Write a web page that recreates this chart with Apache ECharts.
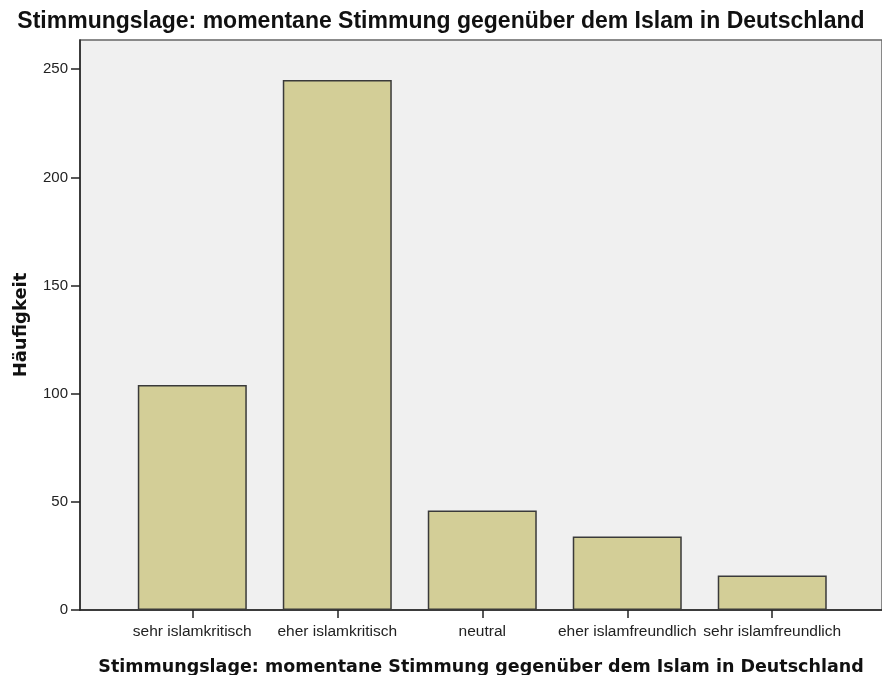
<!DOCTYPE html>
<html>
<head>
<meta charset="utf-8">
<style>
  body, html, #main { margin: 0; width: 882px; height: 675px; background: #fff; }
</style>
<script src="https://cdn.jsdelivr.net/npm/echarts@6/dist/echarts.min.js"></script>
</head>
<body>
<div id="main"></div>
<script>
// Häufigkeiten je Kategorie
const categories = ['sehr islamkritisch', 'eher islamkritisch', 'neutral', 'eher islamfreundlich', 'sehr islamfreundlich']
const counts = [104, 245, 46, 34, 16]
const yTicks = [0, 50, 100, 150, 200, 250]
const titleText = 'Stimmungslage: momentane Stimmung gegenüber dem Islam in Deutschland'

const catIndex = categories.map((c, i) => i)

const chart = echarts.init(document.getElementById('main'), null, { renderer: 'canvas' })
chart.setOption({
  animation: false,
  title: {
    text: titleText,
    left: 'center',
    top: 5,
    textStyle: { fontFamily: 'Liberation Sans', fontSize: 23, fontWeight: 'bold', color: '#111' }
  },
  grid: {
    left: 80, right: 0, top: 40, bottom: 65,
    outerBoundsMode: 'none',
    containLabel: false,
    show: true,
    backgroundColor: '#f0f0f0',
    borderColor: '#666',
    borderWidth: 1.5
  },
  xAxis: {
    type: 'value',
    min: -0.7745,
    max: 4.757,
    splitLine: { show: false },
    axisLine: { show: true, onZero: false, lineStyle: { color: '#222', width: 1.5 } },
    axisTick: { show: true, length: 8, lineStyle: { color: '#222', width: 1.5 }, customValues: catIndex },
    axisLabel: {
      customValues: catIndex,
      formatter: v => categories[Math.round(v)],
      margin: 14,
      fontFamily: 'Liberation Sans', fontSize: 15.5, color: '#222'
    },
    name: titleText,
    nameLocation: 'middle',
    nameGap: 48,
    nameTextStyle: { fontFamily: 'DejaVu Sans', fontWeight: 'bold', fontSize: 17.5, color: '#111' }
  },
  yAxis: {
    type: 'value',
    min: 0,
    max: 263.5,
    splitLine: { show: false },
    axisLine: { show: true, onZero: false, lineStyle: { color: '#222', width: 1.5 } },
    axisTick: { show: true, length: 9, lineStyle: { color: '#222', width: 1.5 }, customValues: yTicks },
    axisLabel: {
      customValues: yTicks,
      margin: 12,
      fontFamily: 'Liberation Sans', fontSize: 15, color: '#222'
    },
    name: 'Häufigkeit',
    nameLocation: 'middle',
    nameGap: 50,
    nameRotate: 90,
    nameTextStyle: { fontFamily: 'DejaVu Sans', fontWeight: 'bold', fontSize: 18, color: '#111' }
  },
  series: [{
    type: 'bar',
    barWidth: 109,
    data: counts.map((v, i) => [i, v]),
    itemStyle: { color: '#d3ce97', borderColor: '#3a3a3a', borderWidth: 1.5 }
  }]
})
</script>
</body>
</html>
